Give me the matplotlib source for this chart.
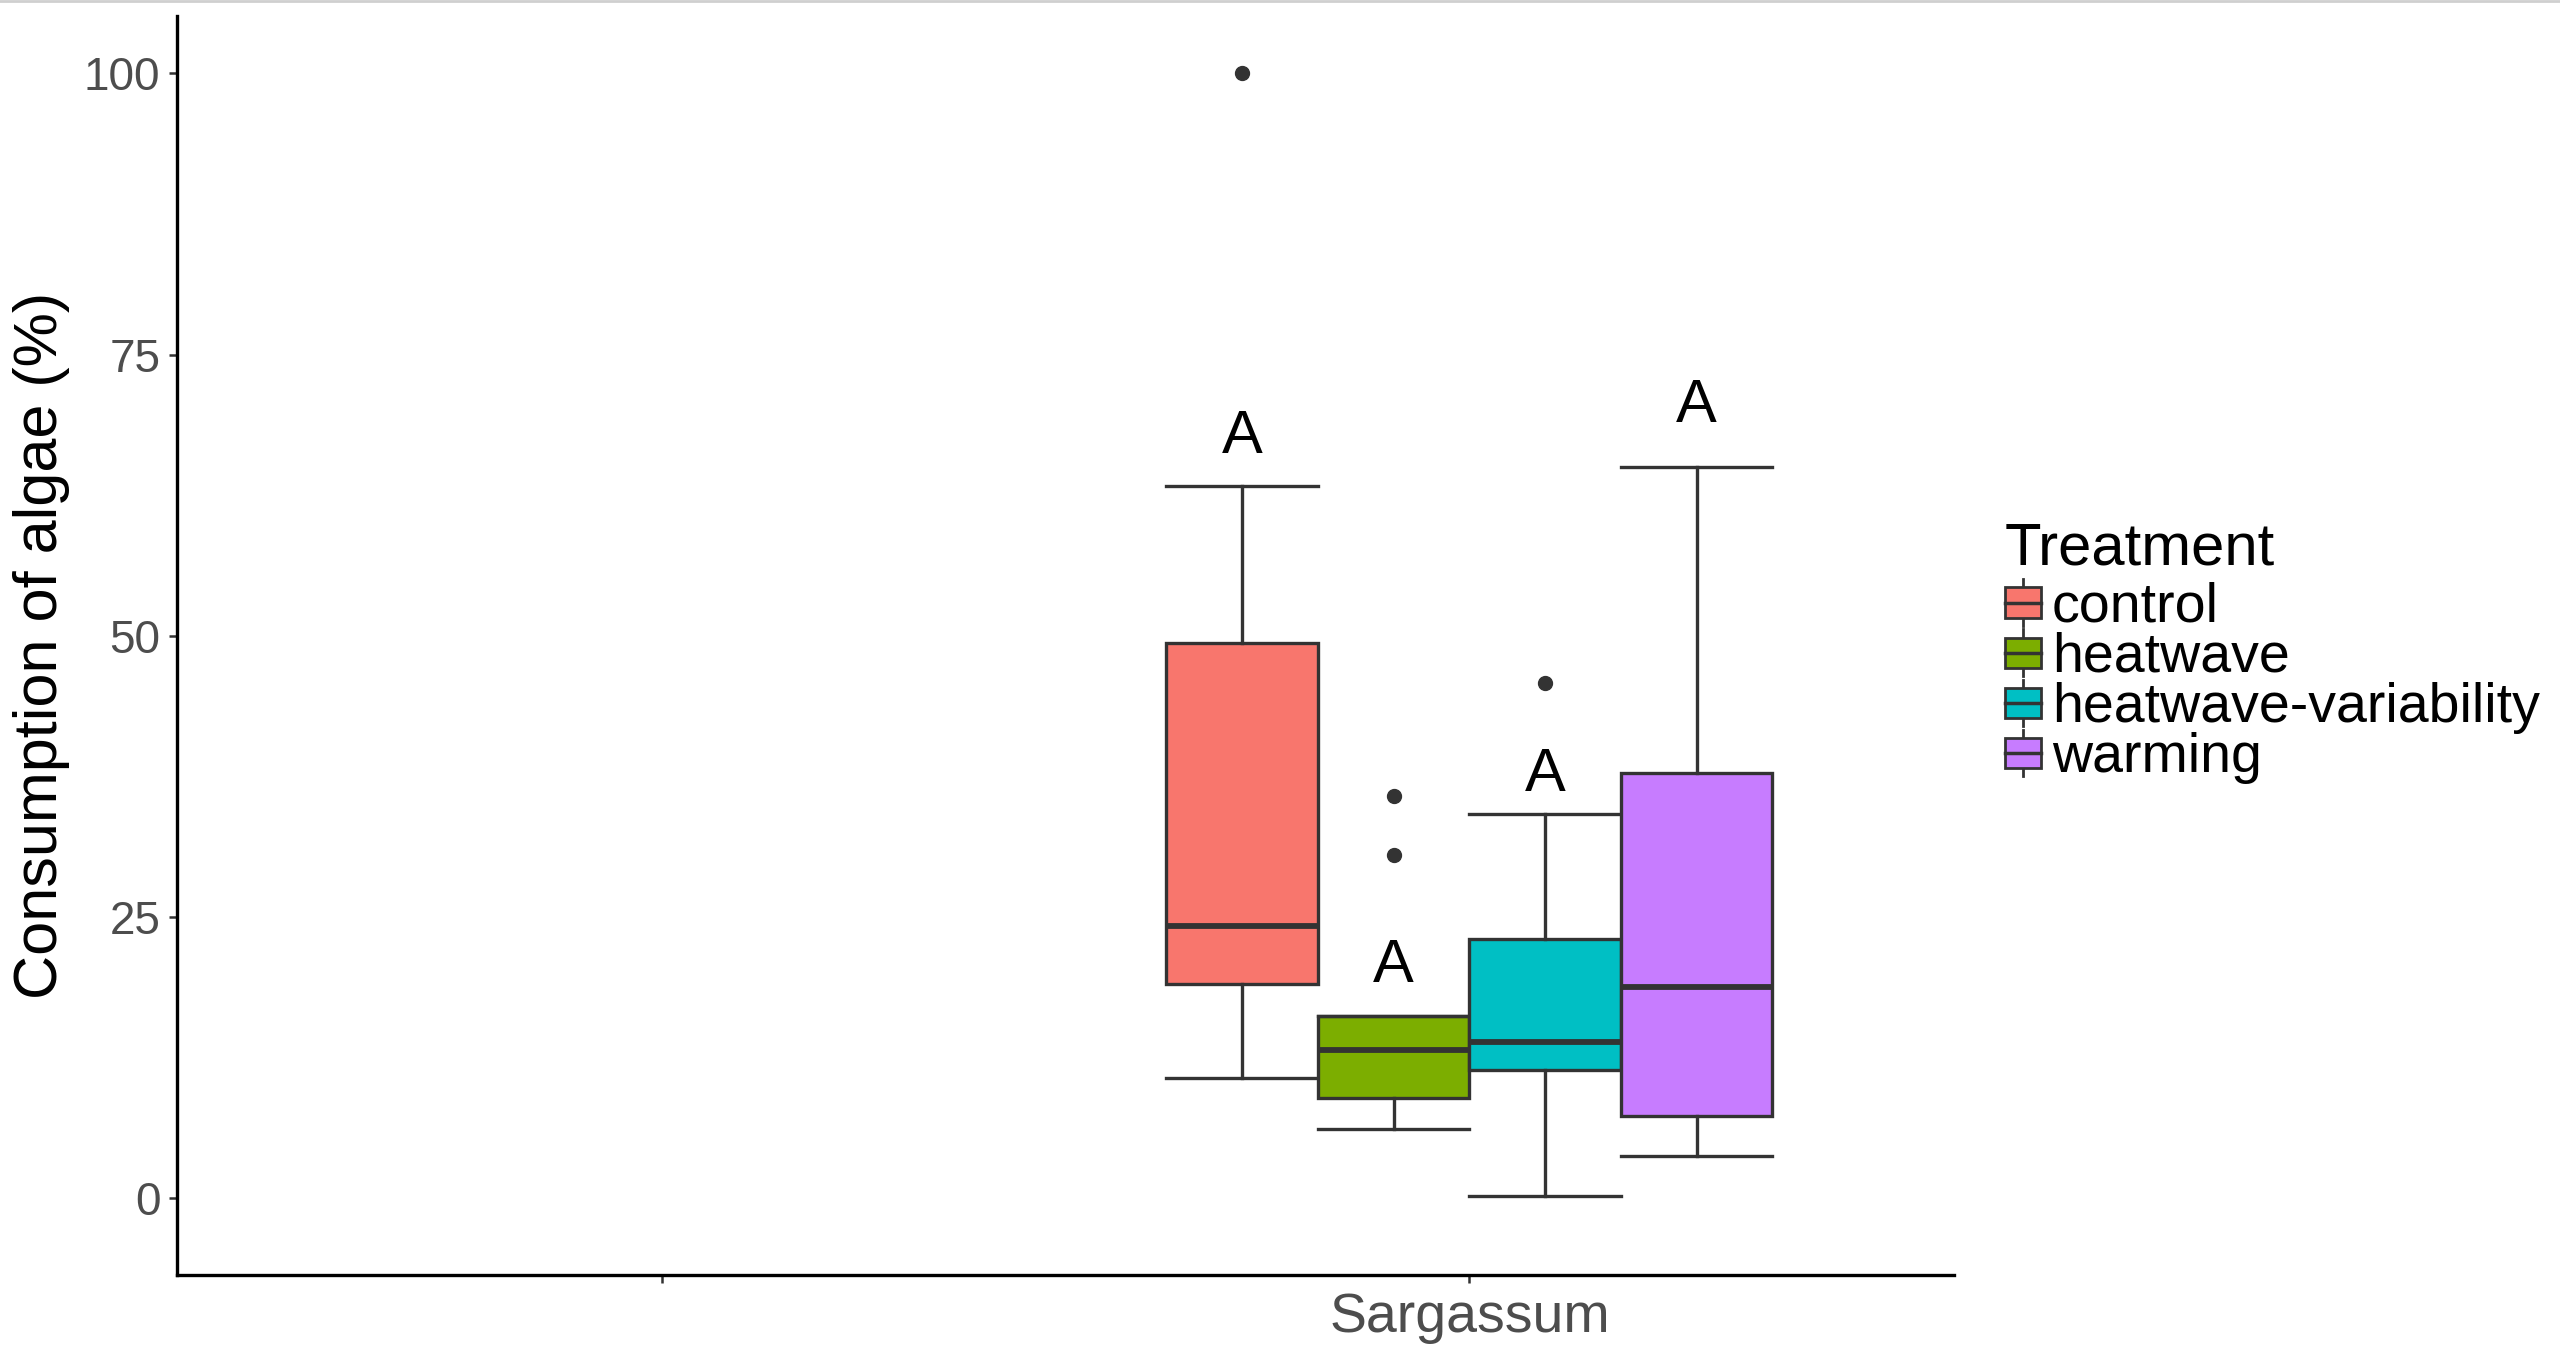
import matplotlib
matplotlib.use("Agg")
import matplotlib.pyplot as plt
from matplotlib.legend_handler import HandlerBase
from matplotlib.patches import Rectangle, Patch
from matplotlib.lines import Line2D

plt.rcParams['font.family'] = ['Liberation Sans', 'DejaVu Sans']

# ---------------- data ----------------
sites = ["", "Sargassum"]
site_of_boxes = "Sargassum"
treatments = ["control", "heatwave", "heatwave-variability", "warming"]
colors = ["#F8766D", "#7CAE00", "#00BFC4", "#C77CFF"]
whislo = [10.7, 6.2, 0.2, 3.8]
q1 = [19.1, 8.9, 11.4, 7.3]
med = [24.2, 13.2, 13.9, 18.8]
q3 = [49.4, 16.2, 23.1, 37.8]
whishi = [63.3, 16.2, 34.2, 65.0]
outliers = [[100.0], [35.8, 30.5], [45.8], []]
letters = ["A", "A", "A", "A"]
letter_y = [67.6, 20.6, 37.6, 70.4]
yticks = [0, 25, 50, 75, 100]

EDGE = "#333333"

fig = plt.figure(figsize=(25.6, 13.47), dpi=100)
ax = fig.add_axes([177 / 2560, 1 - 1275 / 1347, (1954 - 177) / 2560, (1275 - 16) / 1347])

# positions via dodge
center = sites.index(site_of_boxes) + 1
n = len(treatments)
dodge_w = 0.75
bw = dodge_w / n
positions = [center + (i - (n - 1) / 2) * bw for i in range(n)]

stats = []
for i in range(n):
    stats.append(dict(whislo=whislo[i], q1=q1[i], med=med[i], q3=q3[i],
                      whishi=whishi[i], fliers=outliers[i], label=treatments[i]))

bp = ax.bxp(stats, positions=positions, widths=bw, capwidths=bw,
            patch_artist=True, showfliers=True, manage_ticks=False,
            boxprops=dict(edgecolor=EDGE, linewidth=2.4),
            medianprops=dict(color=EDGE, linewidth=4.2, solid_capstyle='butt'),
            whiskerprops=dict(color=EDGE, linewidth=2.4),
            capprops=dict(color=EDGE, linewidth=2.4),
            flierprops=dict(marker='o', markerfacecolor=EDGE, markeredgecolor=EDGE,
                            markersize=10, linestyle='none'))
for patch, c in zip(bp['boxes'], colors):
    patch.set_facecolor(c)

for i in range(n):
    ax.text(positions[i], letter_y[i], letters[i], ha='center', va='center',
            fontsize=44, color='black')

ax.set_xlim(0.4, len(sites) + 0.6)
ax.set_ylim(-6.8, 105.1)
ax.set_xticks(range(1, len(sites) + 1))
ax.set_xticklabels(sites, fontsize=40, color='#4D4D4D')
ax.set_yticks(yticks)
ax.set_yticklabels([str(t) for t in yticks], fontsize=33, color='#4D4D4D')
ax.tick_params(axis='both', length=6, width=1.8, color=EDGE, pad=6)
ax.set_ylabel("Consumption of algae (%)", fontsize=44, color='black', labelpad=10)

for s in ['top', 'right']:
    ax.spines[s].set_visible(False)
for s in ['left', 'bottom']:
    ax.spines[s].set_linewidth(2.4)
    ax.spines[s].set_color('black')


class BoxHandler(HandlerBase):
    def create_artists(self, legend, orig_handle, xdescent, ydescent, width, height,
                       fontsize, trans):
        fc = orig_handle.get_facecolor()
        x0, y0 = -xdescent, -ydescent
        box_h = height * 0.65
        yb = y0 + (height - box_h) / 2
        rect = Rectangle((x0, yb), width, box_h, facecolor=fc, edgecolor=EDGE,
                         lw=2.0, transform=trans)
        mline = Line2D([x0, x0 + width], [y0 + height / 2] * 2, color=EDGE, lw=2.5,
                       transform=trans)
        wl = Line2D([x0 + width / 2] * 2, [y0, yb], color=EDGE, lw=2.0, transform=trans)
        wu = Line2D([x0 + width / 2] * 2, [yb + box_h, y0 + height], color=EDGE, lw=2.0,
                    transform=trans)
        return [wl, wu, rect, mline]


handles = [Patch(facecolor=c, edgecolor=EDGE, label=t) for c, t in zip(colors, treatments)]
leg = ax.legend(handles=handles, title="Treatment", loc='upper left',
                bbox_to_anchor=(1972 / 2560, 1 - 489 / 1347), bbox_transform=fig.transFigure,
                frameon=False, fontsize=40, title_fontsize=43,
                handler_map={Patch: BoxHandler()},
                handlelength=0.65, handleheight=0.92, handletextpad=0.2,
                labelspacing=-0.08, borderpad=0.59, borderaxespad=0, alignment='left')
# gap between legend title and the entries (points)
leg._legend_box.sep = 1.8

fig.add_artist(Line2D([0, 1], [0.9992, 0.9992], color='#cfcfcf', lw=2,
                      transform=fig.transFigure))

fig.savefig("out.png", dpi=100, facecolor='white')
